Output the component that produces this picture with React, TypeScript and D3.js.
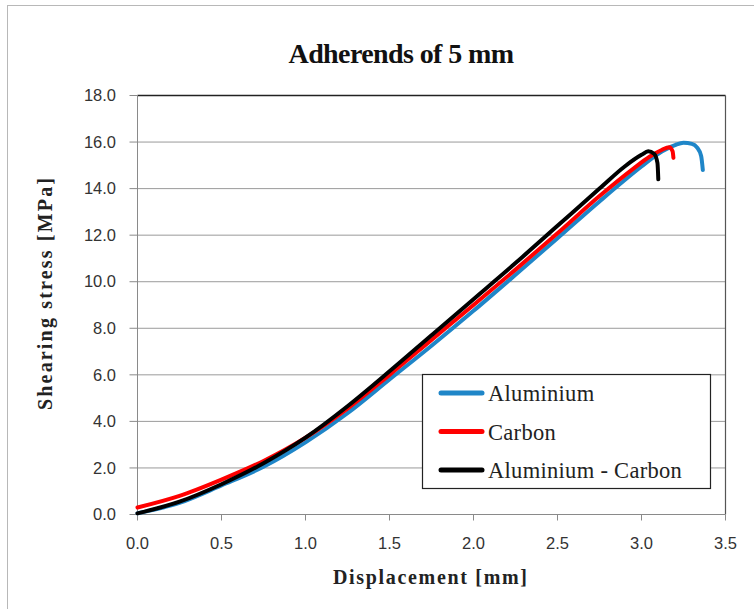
import React from "react";
import * as d3 from "d3";

// Displacement [mm] / shearing stress [MPa] pairs for each adherend combination
const aluminiumX = [0, 0.25, 0.5, 0.75, 1.0, 1.25, 1.5, 1.75, 2.0, 2.25, 2.5, 2.75, 3.0, 3.1, 3.2, 3.25, 3.3, 3.33, 3.355, 3.365];
const aluminiumY = [0.05, 0.5, 1.25, 2.05, 3.1, 4.35, 5.8, 7.25, 8.75, 10.3, 11.87, 13.45, 14.95, 15.5, 15.87, 15.97, 15.92, 15.77, 15.4, 14.8];

const carbonX = [0, 0.25, 0.5, 0.75, 1.0, 1.25, 1.5, 1.75, 2.0, 2.25, 2.5, 2.75, 2.95, 3.05, 3.12, 3.165, 3.185, 3.19];
const carbonY = [0.3, 0.8, 1.5, 2.3, 3.3, 4.55, 6.0, 7.5, 9.0, 10.52, 12.08, 13.68, 14.85, 15.38, 15.66, 15.78, 15.6, 15.32];

const hybridX = [0, 0.25, 0.5, 0.75, 1.0, 1.25, 1.5, 1.75, 2.0, 2.25, 2.5, 2.75, 2.9, 3.0, 3.04, 3.075, 3.095, 3.1];
const hybridY = [0.05, 0.55, 1.3, 2.2, 3.3, 4.65, 6.15, 7.7, 9.25, 10.8, 12.4, 14.0, 14.95, 15.45, 15.6, 15.5, 15.1, 14.4];

const seriesNames = ["Aluminium", "Carbon", "Aluminium - Carbon"];
const seriesColors = ["#1f86c8", "#ff0000", "#000000"];

const xTicks = [0, 0.5, 1.0, 1.5, 2.0, 2.5, 3.0, 3.5];
const yTicks = [0, 2, 4, 6, 8, 10, 12, 14, 16, 18];

const W = 754;
const H = 609;
const left = 137.5;
const right = 725.5;
const top = 95.5;
const bottom = 514.5;

export default function App() {
  const x = d3.scaleLinear().domain([0, 3.5]).range([left, right]);
  const y = d3.scaleLinear().domain([0, 18]).range([bottom, top]);

  const series = [
    aluminiumX.map((v, i) => [v, aluminiumY[i]] as [number, number]),
    carbonX.map((v, i) => [v, carbonY[i]] as [number, number]),
    hybridX.map((v, i) => [v, hybridY[i]] as [number, number]),
  ];

  const line = d3
    .line<[number, number]>()
    .x((d) => x(d[0]))
    .y((d) => y(d[1]))
    .curve(d3.curveMonotoneX);

  const tickFont = "'Liberation Sans', Arial, sans-serif";
  const serif = "'Liberation Serif', 'Times New Roman', serif";

  return (
    <svg
      width={W}
      height={H}
      style={{ position: "absolute", left: 0, top: 0, background: "#fff" }}
    >
      <rect x={0} y={0} width={W} height={H} fill="#fff" />
      {/* outer chart frame */}
      <rect x={7.5} y={5.5} width={780} height={640} fill="none" stroke="#b8b8b8" strokeWidth={1} />

      <text
        x={401}
        y={63}
        textAnchor="middle"
        fontFamily={serif}
        fontWeight="bold"
        fontSize={28}
        letterSpacing={-0.6}
        fill="#111"
      >
        Adherends of 5 mm
      </text>

      {/* horizontal gridlines */}
      {yTicks.slice(1, -1).map((t) => (
        <line key={`g${t}`} x1={left} x2={right} y1={y(t)} y2={y(t)} stroke="#9a9a9a" strokeWidth={1} />
      ))}

      {/* plot border */}
      <line x1={left} x2={right} y1={top} y2={top} stroke="#222" strokeWidth={1.5} />
      <line x1={right} x2={right} y1={top} y2={bottom} stroke="#555" strokeWidth={1.2} />

      {/* y axis */}
      <line x1={left} x2={left} y1={top} y2={bottom} stroke="#8a8a8a" strokeWidth={1} />
      {yTicks.map((t) => (
        <g key={`y${t}`}>
          <line x1={left - 8} x2={left} y1={y(t)} y2={y(t)} stroke="#8a8a8a" />
          <text
            x={116}
            y={y(t)}
            dy="0.35em"
            textAnchor="end"
            fontFamily={tickFont}
            fontSize={16.5}
            fill="#333"
          >
            {t.toFixed(1)}
          </text>
        </g>
      ))}

      {/* x axis */}
      <line x1={left} x2={right} y1={bottom} y2={bottom} stroke="#8a8a8a" strokeWidth={1} />
      {xTicks.map((t) => (
        <g key={`x${t}`}>
          <line x1={x(t)} x2={x(t)} y1={bottom} y2={bottom + 6} stroke="#8a8a8a" />
          <text
            x={x(t)}
            y={549}
            textAnchor="middle"
            fontFamily={tickFont}
            fontSize={16.5}
            fill="#333"
          >
            {t.toFixed(1)}
          </text>
        </g>
      ))}

      <text
        x={430}
        y={584}
        textAnchor="middle"
        fontFamily={serif}
        fontWeight="bold"
        fontSize={20}
        textLength={194}
        lengthAdjust="spacing"
        fill="#222"
      >
        Displacement [mm]
      </text>

      <text
        transform="translate(52,294) rotate(-90)"
        textAnchor="middle"
        fontFamily={serif}
        fontWeight="bold"
        fontSize={20}
        textLength={232}
        lengthAdjust="spacing"
        fill="#222"
      >
        Shearing stress [MPa]
      </text>

      {/* curves */}
      {series.map((s, i) => (
        <path
          key={seriesNames[i]}
          d={line(s) ?? ""}
          fill="none"
          stroke={seriesColors[i]}
          strokeWidth={4}
          strokeLinecap="round"
          strokeLinejoin="round"
        />
      ))}

      {/* legend */}
      <rect x={422.5} y={374.5} width={288} height={114} fill="#fff" stroke="#222" strokeWidth={1.2} />
      {seriesNames.map((name, i) => {
        const ly = 393 + i * 38.5;
        return (
          <g key={`l${name}`}>
            <line x1={441} x2={482} y1={ly} y2={ly} stroke={seriesColors[i]} strokeWidth={5} strokeLinecap="round" />
            <text x={488} y={ly + 8} fontFamily={serif} fontSize={22.5} letterSpacing={0.3} fill="#222">
              {name}
            </text>
          </g>
        );
      })}
    </svg>
  );
}
